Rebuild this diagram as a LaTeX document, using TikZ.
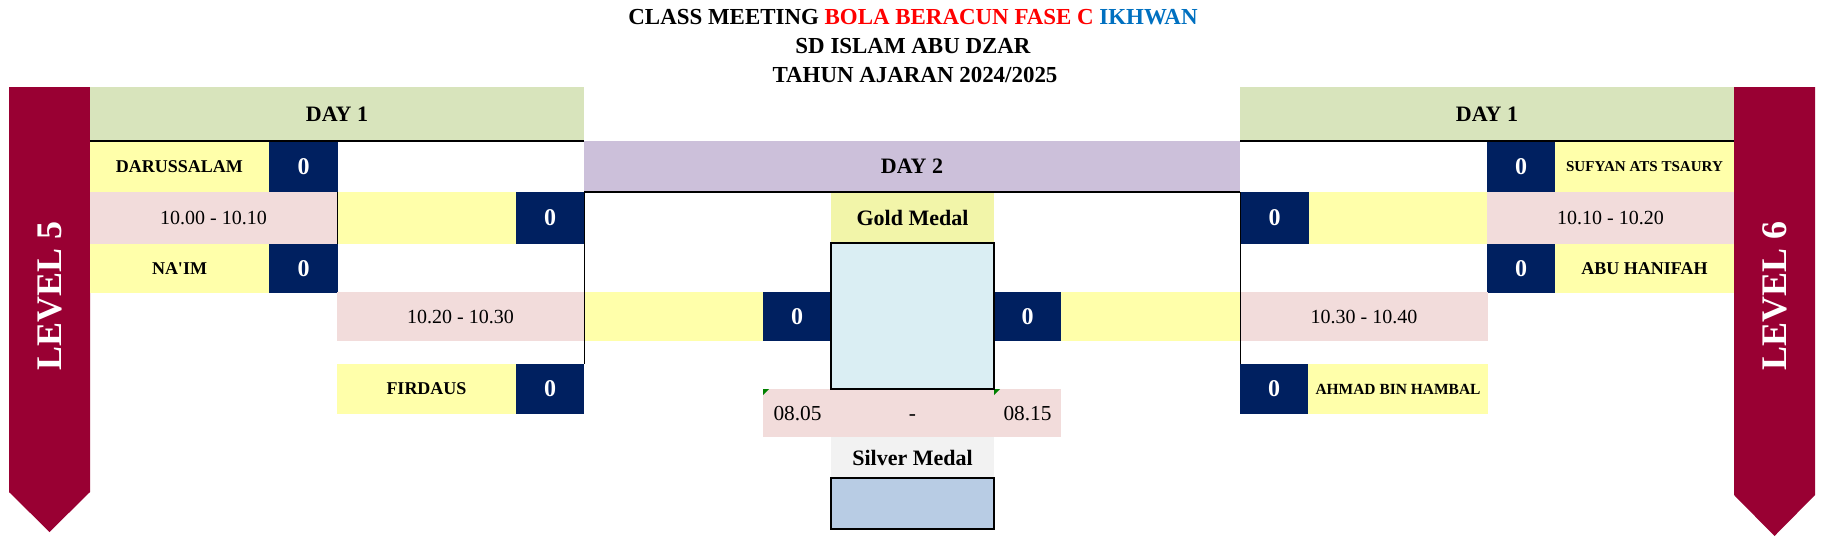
\documentclass[tikz,border=0pt]{standalone}
\usepackage{fontspec}
\setmainfont{Liberation Serif}
\definecolor{banner}{HTML}{990033}
\definecolor{dayone}{HTML}{D8E4BC}
\definecolor{daytwo}{HTML}{CCC0DA}
\definecolor{teamy}{HTML}{FFFFAA}
\definecolor{pinkc}{HTML}{F2DCDB}
\definecolor{navy}{HTML}{002060}
\definecolor{goldlbl}{HTML}{F2F5A9}
\definecolor{goldbox}{HTML}{DAEEF3}
\definecolor{silverlbl}{HTML}{F2F2F2}
\definecolor{silverbox}{HTML}{B8CCE4}
\definecolor{titlered}{HTML}{FF0000}
\definecolor{titleblue}{HTML}{0070C0}
\definecolor{errgreen}{HTML}{008000}
\newcommand{\cellbox}[7]{\node[#6, minimum width={(#4-#2)*0.75pt}, minimum height={(#5-#3)*0.75pt}] (#1) at ({(#2+#4)/2},{(#3+#5)/2}) {#7};}
\tikzset{
  cell/.style={inner sep=0pt, outer sep=0pt, anchor=center},
  hdr/.style={cell, font=\bfseries\fontsize{16.5}{18}\selectfont},
  team/.style={cell, fill=teamy, font=\bfseries\fontsize{13.5}{15}\selectfont},
  teamsmall/.style={cell, fill=teamy, font=\bfseries\fontsize{11.3}{13}\selectfont},
  score/.style={cell, fill=navy, text=white, font=\bfseries\fontsize{18}{20}\selectfont},
  slot/.style={cell, fill=teamy},
  timecell/.style={cell, fill=pinkc, font=\fontsize{15}{17}\selectfont},
  fintime/.style={inner sep=0pt, anchor=base, font=\fontsize{16}{18}\selectfont},
  medal/.style={cell, font=\bfseries\fontsize{16.5}{18}\selectfont},
  thickline/.style={line width=1.3pt},
  thinline/.style={line width=0.75pt},
  lvl/.style={text=white, font=\bfseries\fontsize{27}{30}\selectfont, rotate=90, inner sep=0pt},
  titletext/.style={font=\bfseries\fontsize{17.2}{19}\selectfont, anchor=base, inner sep=0pt}
}
\begin{document}
\begin{tikzpicture}[x=0.75pt,y=-0.75pt]
\useasboundingbox (0,0) rectangle (1828,547);
% title
\node[titletext] (t1) at (913,24) {CLASS MEETING \textcolor{titlered}{BOLA BERACUN FASE C} \textcolor{titleblue}{IKHWAN}};
\node[titletext] (t2) at (913,53.3) {SD ISLAM ABU DZAR};
\node[titletext] (t3) at (915,82.7) {TAHUN AJARAN 2024/2025};
% banners
\fill[banner] (9,87) -- (90,87) -- (90,492) -- (49.5,532) -- (9,492) -- cycle;
\node[lvl] (lvl5) at (49.5,296) {LEVEL 5};
\fill[banner] (1734,87) -- (1815,87) -- (1815,495) -- (1774.5,536) -- (1734,495) -- cycle;
\node[lvl] (lvl6) at (1774.5,296) {LEVEL 6};
% left side
\cellbox{hdrL}{90}{87}{584}{141}{hdr, fill=dayone}{DAY 1}
\cellbox{nameL1}{90}{141}{269}{192}{team}{DARUSSALAM}
\cellbox{scoreL1}{269}{141}{338}{192}{score}{0}
\cellbox{timeL1}{90}{192}{337}{244}{timecell}{10.00 - 10.10}
\cellbox{slotL1}{337}{192}{516}{244}{slot}{}
\cellbox{scoreL4}{516}{192}{584}{244}{score}{0}
\cellbox{nameL2}{90}{244}{269}{293}{team}{NA\textquotesingle IM}
\cellbox{scoreL2}{269}{244}{338}{293}{score}{0}
\cellbox{timeL2}{337}{292}{584}{341}{timecell}{10.20 - 10.30}
\cellbox{nameL3}{337}{364}{516}{414}{team}{FIRDAUS}
\cellbox{scoreL3}{516}{364}{584}{414}{score}{0}
% middle
\cellbox{hdrM}{584}{141}{1240}{192}{hdr, fill=daytwo}{DAY 2}
\cellbox{finLslot}{584}{292}{763}{341}{slot}{}
\cellbox{finLscore}{763}{292}{831}{341}{score}{0}
\cellbox{goldlabel}{831}{193}{994}{243}{medal, fill=goldlbl}{Gold Medal}
\cellbox{finRscore}{994}{292}{1061}{341}{score}{0}
\cellbox{finRslot}{1061}{292}{1240}{341}{slot}{}
\cellbox{finTime}{763}{389}{1061}{437}{cell, fill=pinkc}{}
\node[fintime] (ft1) at (797.5,420.5) {08.05};
\node[fintime] (ft2) at (912.5,420.5) {-};
\node[fintime] (ft3) at (1027.5,420.5) {08.15};
\fill[errgreen] (763,389) -- (769,389) -- (763,395) -- cycle;
\fill[errgreen] (994,389) -- (1000,389) -- (994,395) -- cycle;
\cellbox{goldbox}{831}{243}{994}{389}{cell, fill=goldbox, draw=black, line width=1.3pt}{}
\cellbox{silverlabel}{831}{437}{994}{478}{medal, fill=silverlbl}{Silver Medal}
\cellbox{silverbox}{831}{478}{994}{529}{cell, fill=silverbox, draw=black, line width=1.3pt}{}
% right side
\cellbox{hdrR}{1240}{87}{1734}{141}{hdr, fill=dayone}{DAY 1}
\cellbox{scoreR1}{1487}{141}{1555}{192}{score}{0}
\cellbox{nameR1}{1555}{141}{1734}{192}{teamsmall}{SUFYAN ATS TSAURY}
\cellbox{scoreR4}{1240}{192}{1309}{244}{score}{0}
\cellbox{slotR1}{1309}{192}{1487}{244}{slot}{}
\cellbox{timeR1}{1487}{192}{1734}{244}{timecell}{10.10 - 10.20}
\cellbox{scoreR2}{1487}{244}{1555}{293}{score}{0}
\cellbox{nameR2}{1555}{244}{1734}{293}{team}{ABU HANIFAH}
\cellbox{timeR2}{1240}{292}{1488}{341}{timecell}{10.30 - 10.40}
\cellbox{scoreR3}{1240}{364}{1308}{414}{score}{0}
\cellbox{nameR3}{1308}{364}{1488}{414}{teamsmall, font=\bfseries\fontsize{11.6}{13}\selectfont}{AHMAD BIN HAMBAL}
% lines
\draw[thickline] (hdrL.south west) -- (hdrL.south east);
\draw[thickline] (hdrR.south west) -- (hdrR.south east);
\draw[thickline] (hdrM.south west) -- (hdrM.south east);
\draw[thinline] (timeL1.north east) -- (timeL1.south east);
\draw[thinline] (hdrM.south west) -- (scoreL3.north east);
\draw[thinline] (hdrM.south east) -- (scoreR3.north west);
\end{tikzpicture}
\end{document}
